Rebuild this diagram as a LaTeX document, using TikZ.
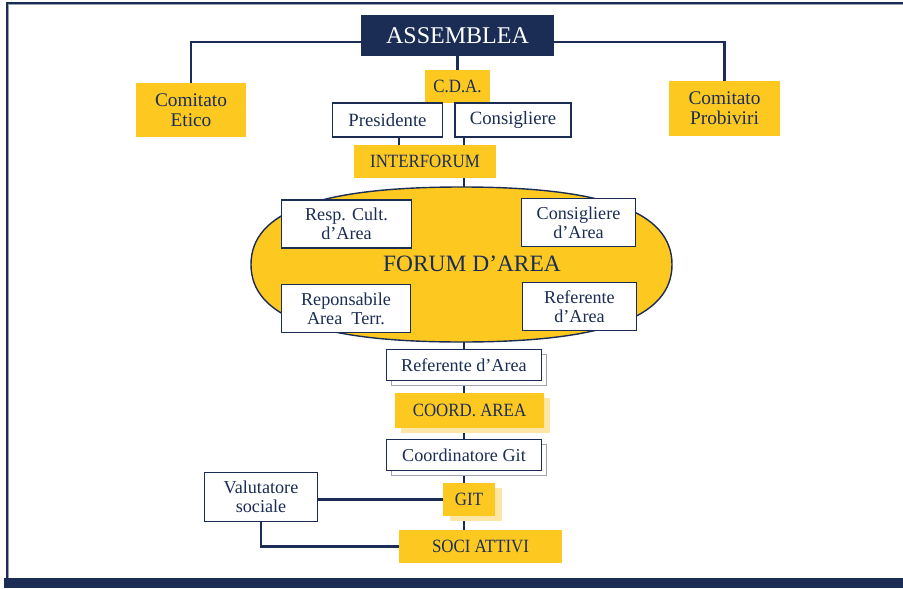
\documentclass[tikz,border=0pt]{standalone}
\usepackage{fontspec}
\setmainfont{Liberation Serif}
\newfontfamily\narrowserif[FakeStretch=0.9]{Liberation Serif}
\usetikzlibrary{shadows,backgrounds}
\definecolor{navy}{HTML}{1B2D55}
\definecolor{gold}{HTML}{FDC921}
\definecolor{paleyellow}{HTML}{FEE6A6}
\definecolor{shadowgrey}{HTML}{A3A3B5}

\begin{document}
\begin{tikzpicture}[x=0.03cm, y=-0.03cm,
    yellowbox/.style={fill=gold, text=navy, inner sep=0pt, align=center,
        font=\narrowserif\fontsize{16}{17}\selectfont},
    whitebox/.style={draw=navy, line width=1.6pt, fill=white, text=navy,
        inner sep=0pt, align=center, font=\fontsize{15.5}{16.5}\selectfont},
    greyshadow/.style={copy shadow={shadow xshift=0.15cm, shadow yshift=-0.15cm,
        draw=shadowgrey, fill=white}},
    paleshadow/.style={drop shadow={shadow xshift=#1, shadow yshift=-0.16cm,
        fill=paleyellow, opacity=1}},
    link/.style={navy, line width=1.8pt}]
    \useasboundingbox (0,0) rectangle (903,588);
    % frame
    \draw[navy, line width=1.2pt] (903,3) -- (7,3) -- (7,578);
    \draw[navy!45, line width=0.6pt] (903,4.8) -- (8.8,4.8) -- (8.8,578);
    \fill[navy] (4,578) rectangle (903,588);

    % top
    \node[fill=navy, text=white, inner sep=0pt, minimum width=5.79cm, minimum height=1.23cm,
        font=\fontsize{20.5}{22}\selectfont] (assemblea) at (457.5,35.5) {ASSEMBLEA};
    \node[yellowbox, minimum width=3.3cm, minimum height=1.62cm, font=\fontsize{16.5}{17}\selectfont]
        (etico) at (191,110) {Comitato\\Etico};
    \node[yellowbox, minimum width=3.33cm, minimum height=1.65cm, font=\fontsize{16.5}{17}\selectfont]
        (probiviri) at (724.5,108.5) {Comitato\\Probiviri};
    \node[yellowbox, minimum width=1.95cm, minimum height=0.99cm] (cda) at (457.5,86.5) {C.D.A.};
    \node[whitebox, minimum width=3.3cm, minimum height=1cm, font=\fontsize{16}{17}\selectfont]
        (presidente) at (387.5,120) {Presidente};
    \node[whitebox, minimum width=3.5cm, minimum height=1cm, font=\fontsize{16}{17}\selectfont]
        (consigliere) at (513,120) {Consigliere};
    \node[yellowbox, minimum width=4.26cm, minimum height=0.99cm] (interforum) at (425,161.5) {INTERFORUM};

    % forum
    \draw[fill=gold, draw=navy, line width=1.2pt] (672,264.5)
        .. controls (672,211.8) and (604.6,187) .. (461.5,187)
        .. controls (318.4,187) and (251,211.8) .. (251,264.5)
        .. controls (251,317.2) and (318.4,342) .. (461.5,342)
        .. controls (604.6,342) and (672,317.2) .. (672,264.5) -- cycle;
    \coordinate (ftop) at (464,187);
    \coordinate (fbot) at (464,342);
    \node[text=navy, font=\fontsize{20}{22}\selectfont] (forum) at (472,264) {FORUM D'AREA};
    \foreach \n/\x/\y/\w/\t in {respcult/346.5/224/3.9/{Resp. Cult.\\d'Area},
                                consarea/578.5/222.5/3.42/{Consigliere\\d'Area},
                                respterr/346/308.5/3.87/{Reponsabile\\Area~~Terr.},
                                refarea/579.5/306.5/3.42/{Referente\\d'Area}}{
        \node[whitebox, minimum width=\w cm, minimum height=1.44cm] (\n) at (\x,\y) {\t};
    }

    % spine
    \node[whitebox, greyshadow, minimum width=4.65cm, minimum height=0.93cm]
        (referente) at (464,365) {Referente d'Area};
    \node[yellowbox, paleshadow=0.18cm, minimum width=4.47cm, minimum height=1.05cm]
        (coord) at (469.5,410.5) {COORD. AREA};
    \node[whitebox, greyshadow, minimum width=4.65cm, minimum height=0.93cm]
        (coordgit) at (464,455) {Coordinatore Git};
    \node[yellowbox, paleshadow=0.22cm, minimum width=1.56cm, minimum height=0.99cm]
        (git) at (469,499.5) {GIT};
    \node[yellowbox, minimum width=4.89cm, minimum height=0.99cm] (soci) at (480.5,546.5) {SOCI ATTIVI};
    \node[whitebox, minimum width=3.39cm, minimum height=1.47cm] (valutatore) at (261,497) {Valutatore\\sociale};

    \begin{scope}[on background layer]
        \draw[link] ([yshift=-0.2cm]assemblea.center) -| (etico);
        \draw[link] ([yshift=-0.2cm]assemblea.center) -| (probiviri);
        \draw[link] (assemblea) -- (cda);
        \draw[link] ([xshift=0.35cm]presidente.center) -- ([xshift=0.35cm]presidente.center |- interforum);
        \draw[link] (consigliere -| ftop) -- (ftop);
        \draw[link] (fbot) -- (soci -| fbot);
        \draw[link] (valutatore |- git) -- (git);
        \draw[link] (valutatore) |- (soci);
    \end{scope}
\end{tikzpicture}
\end{document}
